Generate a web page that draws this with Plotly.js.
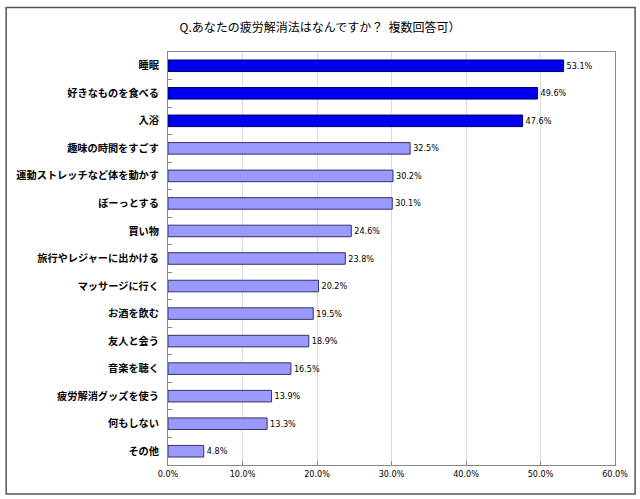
<!DOCTYPE html>
<html><head><meta charset="utf-8">
<script src="https://cdn.plot.ly/plotly-3.0.1.min.js"></script>
<style>html,body{margin:0;padding:0;background:#fff}#chart{width:640px;height:499px}</style>
</head><body><div id="chart"></div>
<script>
const categories = ["睡眠","好きなものを食べる","入浴","趣味の時間をすごす","運動ストレッチなど体を動かす","ぼーっとする","買い物","旅行やレジャーに出かける","マッサージに行く","お酒を飲む","友人と会う","音楽を聴く","疲労解消グッズを使う","何もしない","その他"];
const values = [53.1,49.6,47.6,32.5,30.2,30.1,24.6,23.8,20.2,19.5,18.9,16.5,13.9,13.3,4.8];
const highlightCount = 3;
const xTickVals = [0,10,20,30,40,50,60];
const xTickText = ["0.0%","10.0%","20.0%","30.0%","40.0%","50.0%","60.0%"];

const colors = values.map((v,i)=> i<highlightCount ? '#0000f0' : '#9999ff');
const lineColors = values.map((v,i)=> i<highlightCount ? '#000066' : '#333366');

const trace = {
  type:'bar', orientation:'h',
  x: values, y: categories,
  marker:{color:colors, line:{color:lineColors, width:1}},
  width:0.42,
  text: values.map(v=>v.toFixed(1)+'%'),
  textposition:'outside',
  textfont:{family:'DejaVu Sans Condensed, DejaVu Sans, sans-serif', size:9, color:'#000'},
  cliponaxis:false,
  hoverinfo:'none'
};

const layout = {
  width:640, height:499,
  margin:{l:168, r:25, t:52, b:34},
  paper_bgcolor:'#fff', plot_bgcolor:'#fff',
  showlegend:false,
  title:{text:'Q.あなたの疲労解消法はなんですか？\u00a0\u00a0複数回答可）', x:0.5, xanchor:'center', y:0.945, yanchor:'middle',
    font:{family:'Noto Sans CJK JP, sans-serif', size:12, color:'#000'}},
  xaxis:{range:[0,60], tickvals:xTickVals, ticktext:xTickText, showgrid:true, gridcolor:'#dcdcdc', gridwidth:1,
    zeroline:false, showline:true, linecolor:'#888', mirror:true, ticks:'inside', ticklen:4, tickcolor:'#888',
    tickfont:{family:'DejaVu Sans Condensed, DejaVu Sans, sans-serif', size:9, color:'#000'}, fixedrange:true},
  yaxis:{autorange:'reversed', type:'category', showgrid:false, showline:true, linecolor:'#888', mirror:true,
    ticks:'inside', tickson:'boundaries', ticklen:4, tickcolor:'#888', ticklabelstandoff:6,
    tickfont:{family:'Noto Sans CJK JP, sans-serif', size:10.2, color:'#000', weight:'bold'}, fixedrange:true},
  shapes:[{type:'rect', xref:'paper', yref:'paper', x0:-0.362, x1:1.045, y0:-0.07, y1:1.108,
    line:{color:'#555', width:1.5}, fillcolor:'rgba(0,0,0,0)'}]
};
Plotly.newPlot('chart',[trace],layout,{staticPlot:true});
</script></body></html>
